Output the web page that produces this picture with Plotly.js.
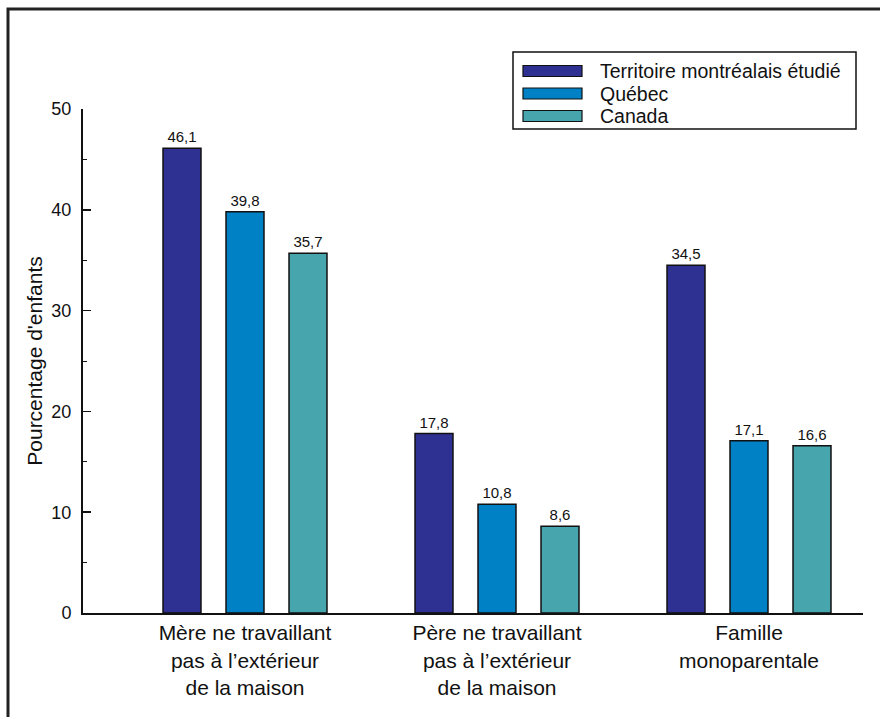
<!DOCTYPE html>
<html>
<head>
<meta charset="utf-8">
<script src="https://cdn.plot.ly/plotly-3.0.1.min.js"></script>
<style>html,body{margin:0;padding:0;background:#fff;}#chart{width:880px;height:717px;}</style>
</head>
<body>
<div id="chart"></div>
<script>
const categories = [
  "Mère ne travaillant<br>pas à l’extérieur<br>de la maison",
  "Père ne travaillant<br>pas à l’extérieur<br>de la maison",
  "Famille<br>monoparentale"
];
const seriesNames = ["Territoire montréalais étudié", "Québec", "Canada"];
const territoire = [46.1, 17.8, 34.5];
const quebec = [39.8, 10.8, 17.1];
const canada = [35.7, 8.6, 16.6];
const yTickVals = [0, 10, 20, 30, 40, 50];
const colors = ["#2E3192", "#0081C6", "#47A5AE"];

const FONT = "Liberation Sans, Arial, sans-serif";
const seriesValues = [territoire, quebec, canada];
const traces = seriesValues.map((vals, i) => ({
  type: "bar",
  name: seriesNames[i],
  x: [0, 1, 2],
  y: vals,
  marker: {color: colors[i], line: {color: "#111", width: 1.5}},
  texttemplate: "%{y:.1f}",
  textposition: "outside",
  constraintext: "none",
  textfont: {size: 15, color: "#111", family: FONT},
  cliponaxis: false,
  hoverinfo: "none"
}));

const L = 83, R = 863, T = 109, B = 613, W = 880, H = 717;
const px = x => (x - L) / (R - L);
const py = y => (B - y) / (B - T);

const shapes = [
  {type: "path", xref: "paper", yref: "paper",
   path: `M ${px(8)} ${py(H + 5)} L ${px(8)} ${py(9)} L ${px(W + 5)} ${py(9)}`,
   line: {color: "#222", width: 3}},
  {type: "rect", xref: "paper", yref: "paper",
   x0: px(513), x1: px(856), y0: py(129), y1: py(52),
   line: {color: "#111", width: 1.5}, fillcolor: "#fff"}
];
const annotations = [];
const rowCenters = [71, 93.5, 116];
seriesNames.forEach((n, i) => {
  const c = rowCenters[i];
  shapes.push({type: "rect", xref: "paper", yref: "paper",
    x0: px(523), x1: px(582), y0: py(c + 5.5), y1: py(c - 5.5),
    fillcolor: colors[i], line: {color: "#111", width: 1.2}});
  annotations.push({xref: "paper", yref: "paper", x: px(598), y: py(c),
    xanchor: "left", yanchor: "middle", showarrow: false, text: n,
    font: {size: 19.5, color: "#111", family: FONT}});
});

const layout = {
  width: W, height: H,
  margin: {l: L, r: W - R, t: T, b: H - B, pad: 0},
  paper_bgcolor: "#fff", plot_bgcolor: "#fff",
  font: {family: FONT, color: "#111"},
  separators: ", ",
  showlegend: false,
  barmode: "group",
  bargap: 0.25,
  bargroupgap: 0.397,
  xaxis: {
    range: [-162 / 252, 2 + 114 / 252],
    tickmode: "array", tickvals: [0, 1, 2], ticktext: categories,
    ticks: "", showgrid: false, zeroline: false,
    showline: true, linecolor: "#111", linewidth: 2,
    tickfont: {size: 21, color: "#111"},
    fixedrange: true
  },
  yaxis: {
    range: [0, 50],
    tickmode: "array", tickvals: yTickVals,
    ticks: "inside", ticklen: 8, tickwidth: 1.5, tickcolor: "#111",
    minor: {dtick: 5, ticks: "inside", ticklen: 4, tickwidth: 1, tickcolor: "#111", showgrid: false},
    showgrid: false, zeroline: false,
    showline: true, linecolor: "#111", linewidth: 2,
    tickfont: {size: 18, color: "#111"},
    ticklabelstandoff: 6,
    title: {text: "Pourcentage d'enfants", font: {size: 21, color: "#111"}, standoff: 3},
    fixedrange: true
  },
  shapes: shapes,
  annotations: annotations
};

Plotly.newPlot("chart", traces, layout, {displayModeBar: false, staticPlot: true});
</script>
</body>
</html>
